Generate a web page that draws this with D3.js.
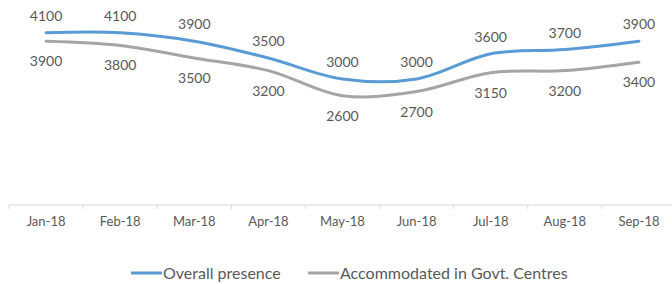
<!DOCTYPE html>
<html>
<head>
<meta charset="utf-8">
<script src="https://cdn.jsdelivr.net/npm/d3@7"></script>
<style>
  body { margin: 0; background: #fff; }
  text { font-family: Lato, "Open Sans", sans-serif; fill: #595959; }
</style>
</head>
<body>
<div id="chart"></div>
<script>
const months = ["Jan-18","Feb-18","Mar-18","Apr-18","May-18","Jun-18","Jul-18","Aug-18","Sep-18"];
const overall = [4100, 4100, 3900, 3500, 3000, 3000, 3600, 3700, 3900];
const accommodated = [3900, 3800, 3500, 3200, 2600, 2700, 3150, 3200, 3400];
const seriesNames = ["Overall presence", "Accommodated in Govt. Centres"];
const colors = ["#5b9bd5", "#a5a5a5"];

const width = 672, height = 284;

const svg = d3.select("#chart")
  .append("svg")
    .attr("width", width)
    .attr("height", height);

const x = d3.scaleBand()
  .domain(months)
  .range([9, 676]);

const y = d3.scaleLinear()
  .domain([0, 4800])
  .range([205, 3.4]);

// axis line and ticks between categories
svg.append("line")
  .attr("x1", x.range()[0]).attr("x2", width)
  .attr("y1", y(0)).attr("y2", y(0))
  .attr("stroke", "#d9d9d9").attr("stroke-width", 1);

const edges = months.map(m => x(m)).concat([x.range()[1]]);
svg.selectAll(".tickmark")
  .data(edges)
  .enter().append("line")
    .attr("class", "tickmark")
    .attr("x1", d => d).attr("x2", d => d)
    .attr("y1", y(0)).attr("y2", y(0) + 4)
    .attr("stroke", "#d9d9d9");

const xAxis = svg.append("g")
  .attr("transform", `translate(0,${y(0)})`)
  .call(d3.axisBottom(x).tickSize(0).tickPadding(12));
xAxis.select(".domain").remove();
xAxis.selectAll("text")
  .style("font-family", "Lato")
  .style("font-size", "13px")
  .attr("fill", "#595959");

const series = [overall, accommodated];
const line = d3.line()
  .x((d, i) => x(months[i]) + x.bandwidth() / 2)
  .y(d => y(d))
  .curve(d3.curveCatmullRom.alpha(0.5));

series.forEach(function(vals, s) {
  svg.append("path")
    .datum(vals)
    .attr("d", line)
    .attr("fill", "none")
    .attr("stroke", colors[s])
    .attr("stroke-width", 3)
    .attr("stroke-linecap", "round");

  svg.selectAll(".lbl" + s)
    .data(vals)
    .enter().append("text")
      .attr("class", "lbl" + s)
      .attr("x", (d, i) => x(months[i]) + x.bandwidth() / 2)
      .attr("y", d => y(d) + (s === 0 ? -17 : 20))
      .attr("dy", "0.35em")
      .attr("text-anchor", "middle")
      .style("font-size", "14px")
      .text(d => d);
});

// legend
const legendItems = [
  {x: 131, name: seriesNames[0], color: colors[0]},
  {x: 308, name: seriesNames[1], color: colors[1]}
];
const legend = svg.selectAll(".legend")
  .data(legendItems)
  .enter().append("g")
    .attr("transform", d => `translate(${d.x},273)`);
legend.append("line")
  .attr("x1", 0).attr("x2", 31)
  .attr("stroke", d => d.color)
  .attr("stroke-width", 3);
legend.append("text")
  .attr("x", 32)
  .attr("dy", "0.35em")
  .style("font-size", "16px")
  .text(d => d.name);
</script>
</body>
</html>
